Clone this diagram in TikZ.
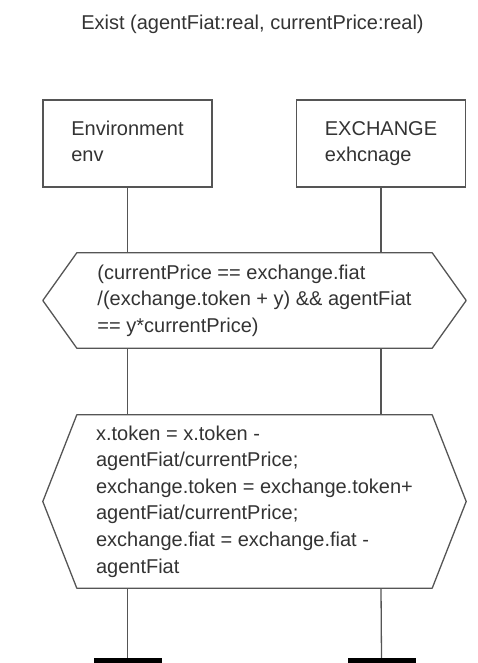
\documentclass[tikz,border=0pt]{standalone}
\usepackage{fontspec}
\setmainfont{Liberation Sans}
\definecolor{linegray}{HTML}{555555}
\definecolor{textgray}{HTML}{333333}
\begin{document}
\begin{tikzpicture}[x=1pt,y=-1pt,
  line/.style={draw=linegray, line width=1.3pt},
  txt/.style={font=\fontsize{20}{26.6}\selectfont, text=textgray, align=left, inner sep=0pt},
  objbox/.style={txt, line, minimum width=169pt, minimum height=87pt,
    execute at begin node={\rule{0pt}{19pt}},
    execute at end node={\rule[-4.2pt]{0pt}{4.2pt}}},
  hexarea/.style={txt, minimum width=423pt},
  endbar/.style={fill=black, minimum width=68pt, minimum height=5pt, inner sep=0pt}]
\useasboundingbox (0,0) rectangle (477,663);
\node[txt, anchor=base] (title) at (252.5,30) {Exist (agentFiat:real, currentPrice:real)};
\node[objbox] (env) at (127.5,143.5) {Environment\\env};
\node[objbox] (exch) at (381,143.5) {EXCHANGE\\exhcnage};
\node[hexarea, minimum height=95pt] (h1) at (254.5,300.5) {(currentPrice == exchange.fiat\\/(exchange.token + y) \&\& agentFiat\\== y*currentPrice)};
\node[hexarea, minimum height=173pt] (h2) at (254.5,501.5) {x.token = x.token -\\agentFiat/currentPrice;\\exchange.token = exchange.token+\\agentFiat/currentPrice;\\exchange.fiat = exchange.fiat -\\agentFiat};
\foreach \h in {h1,h2}{
  \draw[line, line join=round] (\h.west) -- ([xshift=34pt]\h.north west) -- ([xshift=-34pt]\h.north east) -- (\h.east) -- ([xshift=-34pt]\h.south east) -- ([xshift=34pt]\h.south west) -- cycle;
}
\node[endbar] (e1) at (127.5,660.5) {};
\node[endbar] (e2) at (381.5,660.5) {};
\foreach \o/\e in {env/e1,exch/e2}{
  \draw[line] (\o.south) -- (\o.south |- h1.north);
  \draw[line] (\o.south |- h1.south) -- (\o.south |- h2.north);
  \draw[line] (\o.south |- h2.south) -- (\e.north);
}
\end{tikzpicture}
\end{document}
